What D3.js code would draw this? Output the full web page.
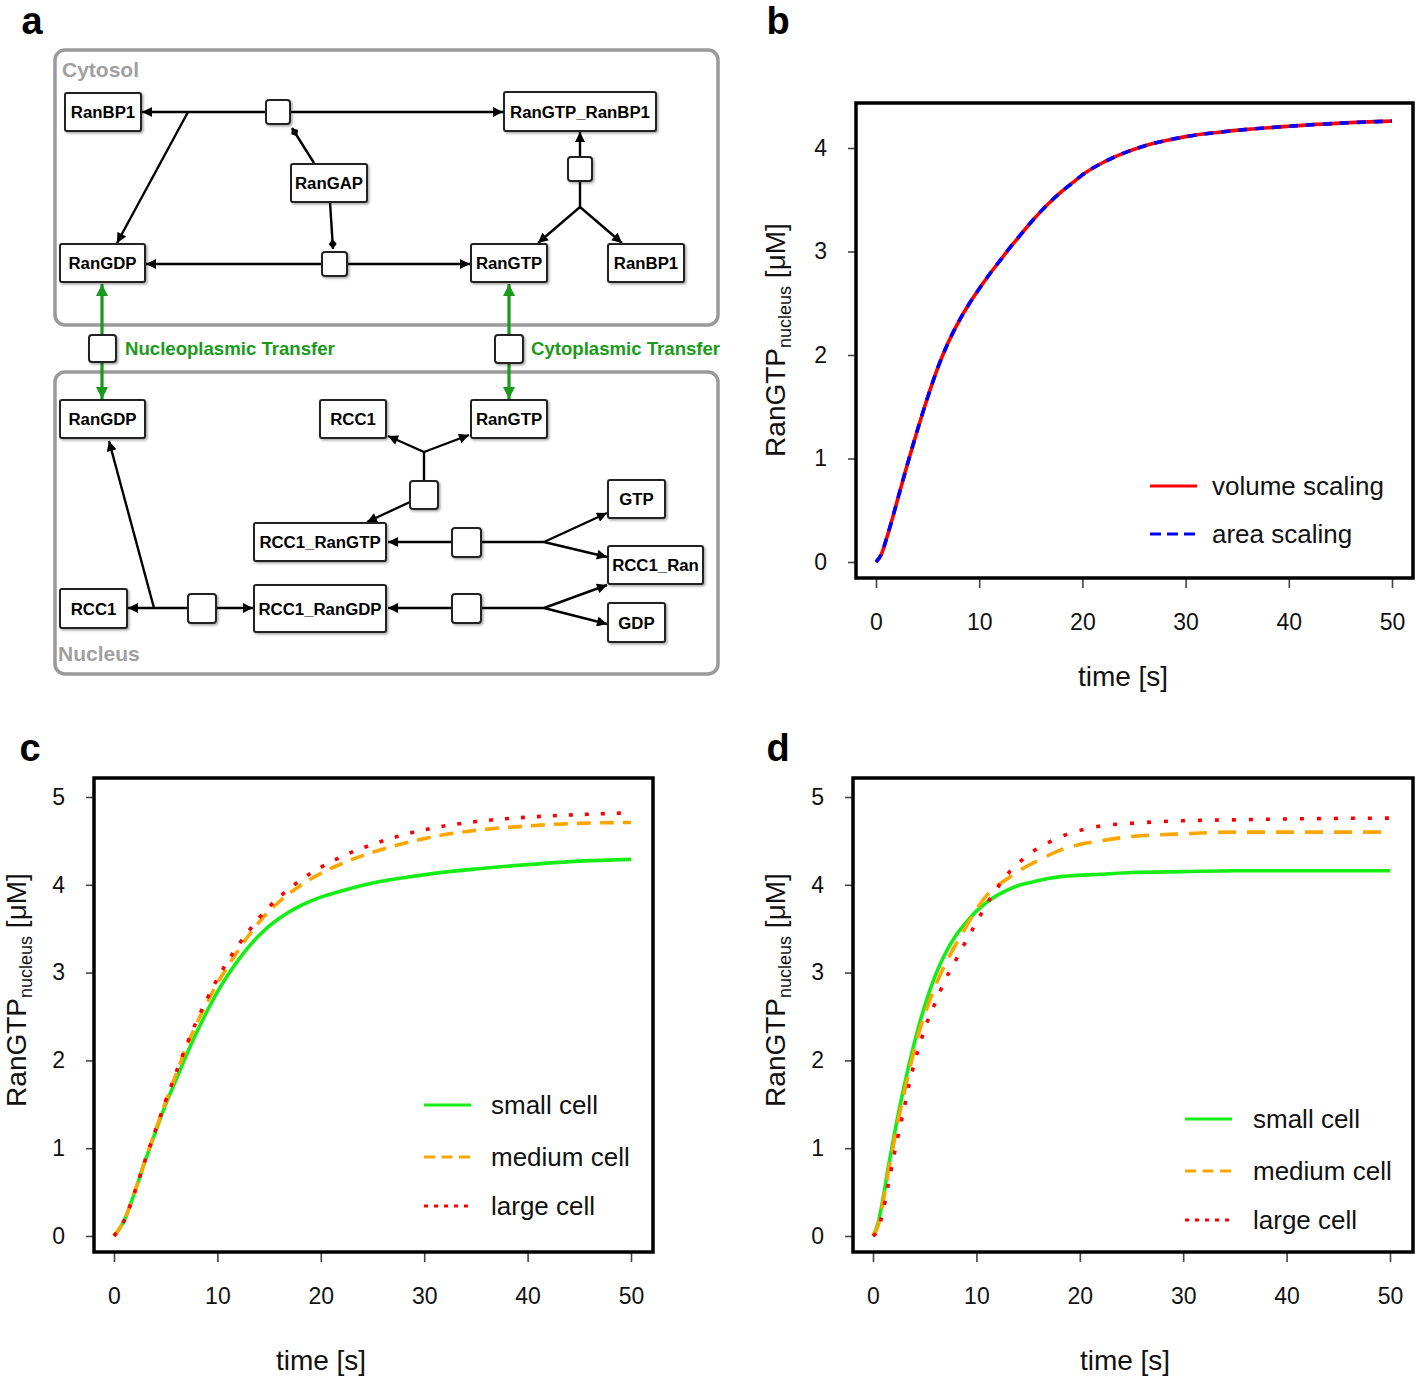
<!DOCTYPE html>
<html><head><meta charset="utf-8">
<script src="https://cdn.jsdelivr.net/npm/d3@7"></script>
<style>body{margin:0;background:#fff} svg{display:block;font-family:"Liberation Sans",Arial,sans-serif}</style>
</head><body>
<svg id="fig" width="1416" height="1378"></svg>
<script>
// ================= DATA =================
const xTicks = [0, 10, 20, 30, 40, 50];
const yTicksB = [0, 1, 2, 3, 4];
const yTicksCD = [0, 1, 2, 3, 4, 5];

// panel b
const timeB = [0,0.5,1,1.5,2,3,4,5,6,7,8,9,10,11,12,13,14,15,16,17,18,19,20,22,24,26,28,30,33,36,40,45,50];
const volumeScaling = [0,0.07,0.22,0.39,0.57,0.93,1.27,1.59,1.88,2.12,2.32,2.49,2.64,2.78,2.91,3.04,3.16,3.28,3.39,3.49,3.58,3.66,3.74,3.86,3.95,4.02,4.07,4.11,4.15,4.18,4.21,4.24,4.26];
const areaScaling   = [0,0.07,0.22,0.39,0.57,0.93,1.27,1.59,1.88,2.12,2.32,2.49,2.64,2.78,2.91,3.04,3.16,3.28,3.39,3.49,3.58,3.66,3.74,3.86,3.95,4.02,4.07,4.11,4.15,4.18,4.21,4.24,4.26];
const legendB = ["volume scaling", "area scaling"];

// panel c
const timeC = [0,1,2,3,4,5,6,7,8,9,10,11,12,13,14,15,16,18,20,22,25,28,31,35,40,45,50];
const smallCellC  = [0,0.18,0.5,0.85,1.18,1.5,1.78,2.06,2.32,2.56,2.78,2.97,3.14,3.29,3.42,3.53,3.62,3.76,3.86,3.93,4.02,4.08,4.13,4.18,4.23,4.27,4.29];
const mediumCellC = [0,0.18,0.5,0.86,1.2,1.53,1.84,2.15,2.42,2.66,2.88,3.07,3.25,3.42,3.57,3.7,3.81,3.99,4.13,4.24,4.37,4.47,4.55,4.62,4.67,4.7,4.71];
const largeCellC  = [0,0.18,0.5,0.86,1.2,1.54,1.86,2.17,2.45,2.7,2.93,3.13,3.31,3.47,3.62,3.75,3.86,4.05,4.2,4.32,4.46,4.57,4.65,4.72,4.77,4.8,4.82];

// panel d
const timeD = [0,0.5,1,1.5,2,2.5,3,3.5,4,4.5,5,6,7,8,9,10,11,12,13,14,15,16,18,20,22,25,30,35,40,50];
const smallCellD  = [0,0.15,0.45,0.8,1.12,1.42,1.7,1.96,2.2,2.42,2.62,2.96,3.22,3.42,3.57,3.7,3.8,3.88,3.94,3.99,4.02,4.05,4.09,4.11,4.12,4.14,4.15,4.16,4.16,4.16];
const mediumCellD = [0,0.12,0.4,0.74,1.05,1.35,1.62,1.88,2.12,2.34,2.52,2.84,3.1,3.32,3.52,3.72,3.88,3.99,4.07,4.15,4.22,4.28,4.39,4.46,4.5,4.55,4.58,4.6,4.6,4.6];
const largeCellD  = [0,0.08,0.3,0.6,0.9,1.18,1.45,1.73,1.97,2.17,2.36,2.65,2.92,3.14,3.36,3.57,3.78,3.96,4.12,4.24,4.34,4.42,4.54,4.62,4.67,4.7,4.73,4.74,4.75,4.76];
const legendCD = ["small cell", "medium cell", "large cell"];

// panel a: species and reactions of the network
const compartments = ["Cytosol", "Nucleus"];
const speciesLabels = ["RanBP1","RanGTP_RanBP1","RanGAP","RanGDP","RanGTP","RanBP1",
                       "RanGDP","RCC1","RanGTP","GTP","RCC1_RanGTP","RCC1_Ran","RCC1","RCC1_RanGDP","GDP"];
const transferLabels = ["Nucleoplasmic Transfer", "Cytoplasmic Transfer"];

// ================= LAYOUT / STYLE =================
const svg = d3.select("#fig");
const FONT = "'Liberation Sans', Arial, sans-serif";

const defs = svg.append("defs");
function arrowMarker(id, color, w, h) {
  defs.append("marker").attr("id", id).attr("markerUnits", "userSpaceOnUse")
    .attr("viewBox", "0 0 10 10").attr("refX", 10).attr("refY", 5)
    .attr("markerWidth", w).attr("markerHeight", h).attr("orient", "auto")
    .append("path").attr("d", "M0,0 L10,5 L0,10 z").attr("fill", color);
}
arrowMarker("arrK", "#000", 11, 10);
arrowMarker("arrG", "#1a9a1a", 13, 12);
defs.append("marker").attr("id", "dia").attr("markerUnits", "userSpaceOnUse")
  .attr("viewBox", "0 0 10 10").attr("refX", 10).attr("refY", 5)
  .attr("markerWidth", 10).attr("markerHeight", 10).attr("orient", "auto")
  .append("path").attr("d", "M0,5 L5,1 L10,5 L5,9 z").attr("fill", "#000");
const shadow = defs.append("filter").attr("id", "sh").attr("x", "-20%").attr("y", "-20%").attr("width", "150%").attr("height", "150%");
shadow.append("feDropShadow").attr("dx", 1.5).attr("dy", 1.5).attr("stdDeviation", 1).attr("flood-color", "#000").attr("flood-opacity", 0.35);

// panel letters
const letters = [["a", 32, 34], ["b", 778, 34], ["c", 30, 761], ["d", 778, 761]];
svg.selectAll("text.letter").data(letters).join("text").attr("class", "letter")
  .attr("x", d => d[1]).attr("y", d => d[2]).attr("text-anchor", "middle")
  .attr("font-family", FONT).attr("font-weight", "bold").attr("font-size", 38).text(d => d[0]);

// ---------- panel a ----------
const gA = svg.append("g");
const compLayout = [
  {x: 55, y: 50, w: 663, h: 275, lx: 62, ly: 77},
  {x: 55, y: 372, w: 663, h: 302, lx: 58, ly: 661}
];
gA.selectAll("rect.comp").data(compartments).join("rect").attr("class", "comp")
  .attr("x", (d, i) => compLayout[i].x).attr("y", (d, i) => compLayout[i].y)
  .attr("width", (d, i) => compLayout[i].w).attr("height", (d, i) => compLayout[i].h)
  .attr("rx", 10).attr("fill", "none").attr("stroke", "#9a9a9a").attr("stroke-width", 3.5);
gA.selectAll("text.comp").data(compartments).join("text").attr("class", "comp")
  .attr("x", (d, i) => compLayout[i].lx).attr("y", (d, i) => compLayout[i].ly)
  .attr("font-family", FONT).attr("font-weight", "bold").attr("font-size", 21)
  .attr("fill", "#a0a0a0").text(d => d);

// edges: [x1,y1,x2,y2,type]
const edges = [
  [266,112,142,112,"k"], [290,112,503,112,"k"], [188,112,117,243,"k"],
  [314,163,292,128,"d"], [330,202,333,249,"d"],
  [322,264,146,264,"k"], [347,264,470,264,"k"],
  [580,157,580,132,"k"], [580,181,580,207,"n"], [580,207,538,243,"k"], [580,207,622,243,"k"],
  [102,335,102,284,"g"], [102,362,102,399,"g"], [509,335,509,284,"g"], [509,362,509,399,"g"],
  [424,481,424,452,"n"], [424,452,388,436,"k"], [424,452,469,435,"k"],
  [410,502,367,522,"k"],
  [452,542,388,542,"k"], [481,542,544,542,"n"], [544,542,607,513,"k"], [544,542,607,557,"k"],
  [452,608,388,608,"k"], [481,608,544,608,"n"], [544,608,607,585,"k"], [544,608,607,624,"k"],
  [188,608,128,608,"k"], [216,608,253,608,"k"], [154,608,109,441,"k"]
];
gA.selectAll("line.edge").data(edges).join("line").attr("class", "edge")
  .attr("x1", d => d[0]).attr("y1", d => d[1]).attr("x2", d => d[2]).attr("y2", d => d[3])
  .attr("stroke", d => d[4] === "g" ? "#1a9a1a" : "#000")
  .attr("stroke-width", d => d[4] === "g" ? 3.2 : 2.4)
  .attr("marker-end", d => d[4] === "k" ? "url(#arrK)" : d[4] === "g" ? "url(#arrG)" : d[4] === "d" ? "url(#dia)" : null);

// reaction squares [x,y,w,h]
const reactions = [
  [266,100,24,24], [568,157,24,24], [322,252,25,24],
  [89,335,27,27], [495,335,28,28],
  [410,481,28,28], [452,528,29,29], [452,594,29,29], [188,594,28,29]
];
gA.selectAll("rect.rx").data(reactions).join("rect").attr("class", "rx")
  .attr("x", d => d[0]).attr("y", d => d[1]).attr("width", d => d[2]).attr("height", d => d[3])
  .attr("rx", 3).attr("fill", "#fff").attr("stroke", "#222").attr("stroke-width", 2).attr("filter", "url(#sh)");

// species boxes layout [x,y,w,h] in order of speciesLabels
const speciesLayout = [
  [65,93,76,38], [504,92,152,39], [291,164,76,38], [60,244,85,38], [471,244,76,38], [608,244,76,38],
  [60,400,85,38], [320,400,66,38], [471,400,76,38], [608,480,57,38], [254,523,132,38],
  [608,546,95,38], [60,589,67,39], [254,585,132,47], [608,603,57,39]
];
const sp = gA.selectAll("g.sp").data(speciesLabels).join("g").attr("class", "sp");
sp.append("rect").attr("x", (d, i) => speciesLayout[i][0]).attr("y", (d, i) => speciesLayout[i][1])
  .attr("width", (d, i) => speciesLayout[i][2]).attr("height", (d, i) => speciesLayout[i][3])
  .attr("rx", 2).attr("fill", "#fff").attr("stroke", "#222").attr("stroke-width", 2).attr("filter", "url(#sh)");
sp.append("text").attr("x", (d, i) => speciesLayout[i][0] + speciesLayout[i][2] / 2)
  .attr("y", (d, i) => speciesLayout[i][1] + speciesLayout[i][3] / 2 + 6)
  .attr("text-anchor", "middle").attr("font-family", FONT).attr("font-weight", "bold")
  .attr("font-size", 16.8).attr("fill", "#000").text(d => d);

const transferLayout = [[125, 355], [531, 355]];
gA.selectAll("text.tr").data(transferLabels).join("text").attr("class", "tr")
  .attr("x", (d, i) => transferLayout[i][0]).attr("y", (d, i) => transferLayout[i][1])
  .attr("font-family", FONT).attr("font-weight", "bold").attr("font-size", 18.6)
  .attr("fill", "#1a9a1a").text(d => d);

// ---------- line plots ----------
function panel(cfg) {
  const g = svg.append("g");
  const x = d3.scaleLinear().domain([0, 50]).range(cfg.xr);
  const y = d3.scaleLinear().domain(cfg.yd).range(cfg.yr);
  const fr = cfg.frame;
  const ax = g.append("g").attr("transform", `translate(0,${fr[3]})`)
    .call(d3.axisBottom(x).tickValues(xTicks).tickSize(10).tickPadding(26).tickFormat(d3.format("d")));
  const ay = g.append("g").attr("transform", `translate(${fr[0]},0)`)
    .call(d3.axisLeft(y).tickValues(cfg.yticks).tickSize(8).tickPadding(21).tickFormat(d3.format("d")));
  [ax, ay].forEach(a => {
    a.select(".domain").remove();
    a.selectAll("line").attr("stroke", "#444").attr("stroke-width", 1.6);
    a.selectAll("text").attr("font-family", FONT).attr("font-size", 23).attr("fill", "#111");
  });
  const line = d3.line().curve(d3.curveMonotoneX);
  cfg.series.forEach(s => {
    g.append("path").attr("d", line(cfg.t.map((t, i) => [x(t), y(s.v[i])])))
      .attr("fill", "none").attr("stroke", s.color).attr("stroke-width", 3.6)
      .attr("stroke-dasharray", s.dash);
  });
  g.append("rect").attr("x", fr[0]).attr("y", fr[1]).attr("width", fr[2] - fr[0]).attr("height", fr[3] - fr[1])
    .attr("fill", "none").attr("stroke", "#000").attr("stroke-width", 3.5);
  cfg.series.forEach((s, i) => {
    const ly = cfg.leg.y[i];
    g.append("line").attr("x1", cfg.leg.x1).attr("x2", cfg.leg.x1 + 47).attr("y1", ly).attr("y2", ly)
      .attr("stroke", s.color).attr("stroke-width", 3).attr("stroke-dasharray", s.ldash);
    g.append("text").attr("x", cfg.leg.tx).attr("y", ly + 9).attr("font-family", FONT)
      .attr("font-size", 26).attr("fill", "#111").text(cfg.legendText[i]);
  });
  g.append("text").attr("x", cfg.xlab[0]).attr("y", cfg.xlab[1])
    .attr("text-anchor", "middle").attr("font-family", FONT).attr("font-size", 28).attr("fill", "#111").text("time [s]");
  const yl = g.append("text").attr("transform", `translate(${cfg.ylab[0]},${cfg.ylab[1]}) rotate(-90)`)
    .attr("text-anchor", "middle").attr("font-family", FONT).attr("font-size", 28).attr("fill", "#111");
  yl.append("tspan").text("RanGTP");
  yl.append("tspan").attr("font-size", 18).attr("dy", 6).text("nucleus");
  yl.append("tspan").attr("dy", -6).text(" [μM]");
}

panel({
  xr: [876, 1392], yd: [0, 4], yr: [562, 148], frame: [856, 103, 1413, 578], yticks: yTicksB,
  t: timeB,
  series: [
    {v: volumeScaling, color: "#ff0000", dash: null, ldash: null},
    {v: areaScaling, color: "#0000ff", dash: "9,8", ldash: "11,6"}
  ],
  legendText: legendB,
  leg: {x1: 1150, tx: 1212, y: [486, 534]},
  xlab: [1123, 686],
  ylab: [785, 340]
});

panel({
  xr: [114, 631], yd: [0, 5], yr: [1236, 797], frame: [94, 778, 653, 1252], yticks: yTicksCD,
  t: timeC,
  series: [
    {v: smallCellC, color: "#14ee14", dash: null, ldash: null},
    {v: mediumCellC, color: "#ffa500", dash: "14,9", ldash: "11,6.5"},
    {v: largeCellC, color: "#ff0000", dash: "4,12", ldash: "4,6"}
  ],
  legendText: legendCD,
  leg: {x1: 424, tx: 491, y: [1105, 1157, 1206]},
  xlab: [321, 1370],
  ylab: [26, 990]
});

panel({
  xr: [873, 1390], yd: [0, 5], yr: [1236, 797], frame: [853, 778, 1413, 1252], yticks: yTicksCD,
  t: timeD,
  series: [
    {v: smallCellD, color: "#14ee14", dash: null, ldash: null},
    {v: mediumCellD, color: "#ffa500", dash: "18,11", ldash: "11,6.5"},
    {v: largeCellD, color: "#ff0000", dash: "4,13", ldash: "4,6"}
  ],
  legendText: legendCD,
  leg: {x1: 1185, tx: 1253, y: [1119, 1171, 1220]},
  xlab: [1125, 1370],
  ylab: [785, 990]
});
</script>
</body></html>
